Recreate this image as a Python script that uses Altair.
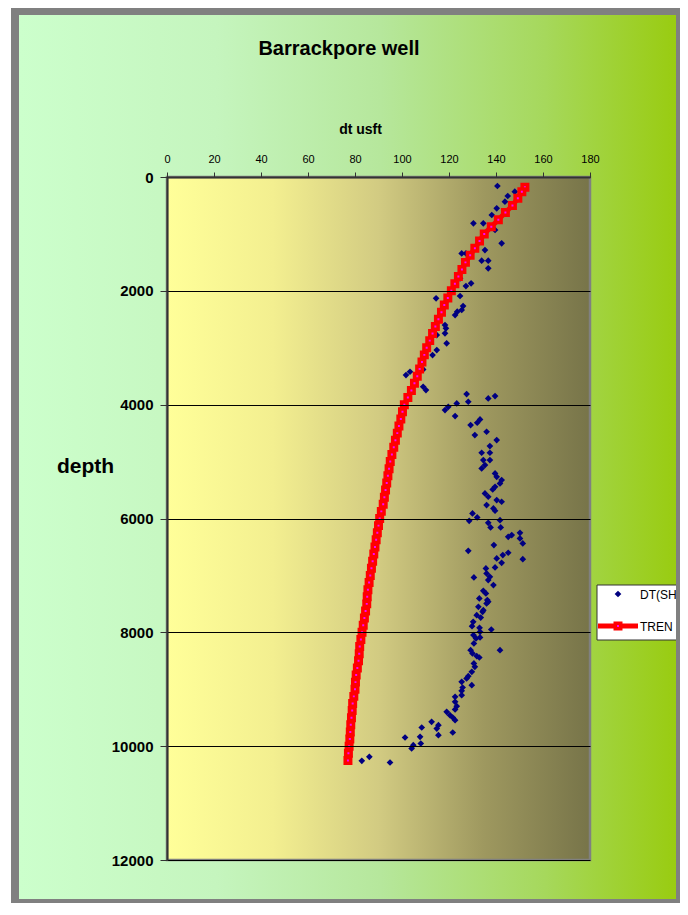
import altair as alt
import pandas as pd

# ---- data ----
shale_depth = [158, 258, 334, 434, 551, 668, 814, 814, 931, 1166, 1283, 1342, 1342, 1471, 1471, 1605,
               1781, 1868, 1916, 2091, 2132, 2267, 2337, 2367, 2425, 2601, 2659, 2747, 2777, 2923,
               3040, 3128, 3380, 3422, 3480, 3685, 3743, 3814, 3849, 3890, 3949, 3978, 4037, 4095,
               4200, 4260, 4318, 4358, 4476, 4534, 4622, 4727, 4845, 4845, 4974, 4974, 5062, 5120,
               5208, 5267, 5325, 5384, 5443, 5489, 5559, 5618, 5677, 5706, 5765, 5823, 5864, 5911,
               5982, 6029, 6041, 6076, 6157, 6157, 6251, 6292, 6322, 6350, 6438, 6467, 6567, 6602,
               6643, 6701, 6714, 6778, 6860, 6877, 6965, 7024, 7035, 7082, 7170, 7270, 7316, 7405,
               7434, 7463, 7493, 7552, 7610, 7640, 7698, 7740, 7815, 7891, 7920, 7950, 7991, 8049,
               8090, 8107, 8195, 8313, 8313, 8371, 8418, 8442, 8547, 8606, 8694, 8770, 8810, 8869,
               8928, 8969, 9028, 9104, 9133, 9221, 9297, 9355, 9397, 9455, 9496, 9543, 9573, 9631,
               9672, 9690, 9760, 9807, 9836, 9848, 9953, 9982, 10041, 10188, 10258, 10287]
shale_dt = [140.6, 148.0, 145.0, 143.8, 140.3, 138.2, 130.4, 134.6, 139.6, 142.4, 135.3, 125.4, 127.2,
            133.9, 136.7, 136.7, 124.7, 129.4, 127.2, 124.7, 114.5, 126.0, 125.4, 123.5, 122.6, 118.3,
            118.7, 118.3, 114.8, 119.0, 114.8, 113.0, 109.0, 103.4, 101.7, 109.0, 110.2, 127.5, 139.6,
            136.7, 128.2, 123.3, 119.7, 118.3, 122.6, 133.2, 132.0, 129.2, 136.0, 131.0, 140.3, 137.4,
            133.9, 137.4, 134.6, 137.4, 135.3, 133.9, 139.6, 140.3, 142.4, 141.7, 139.6, 138.6, 135.3,
            136.7, 140.3, 142.4, 136.0, 138.9, 139.6, 130.0, 132.0, 141.7, 128.6, 136.7, 137.7, 142.0,
            150.2, 146.7, 145.2, 150.2, 151.4, 139.1, 128.2, 145.2, 142.9, 140.3, 151.4, 142.4, 139.6,
            135.7, 136.0, 137.4, 130.6, 136.7, 138.9, 134.6, 135.7, 132.9, 136.3, 136.7, 136.0, 132.5,
            134.6, 134.3, 131.8, 133.5, 130.3, 129.8, 133.0, 138.0, 133.2, 130.4, 133.2, 131.5, 130.6,
            141.7, 129.2, 130.0, 131.8, 132.9, 130.6, 131.0, 129.7, 128.2, 127.5, 125.4, 129.7, 125.8,
            125.4, 125.4, 122.6, 122.6, 123.3, 122.6, 119.0, 120.4, 121.6, 122.6, 112.6, 115.5, 108.4,
            114.8, 121.6, 115.5, 107.7, 101.3, 108.0, 104.8, 104.1, 86.1, 82.9, 94.9]

trend_depth = [180, 260, 375, 500, 625, 750, 875, 1000, 1125, 1250, 1375, 1500, 1625, 1750, 1875,
               2000, 2125, 2250, 2375, 2500, 2625, 2750, 2875, 3000, 3125, 3250, 3375, 3500, 3625,
               3750, 3875, 4000, 4125, 4250, 4375, 4500, 4625, 4750, 4875, 5000, 5125, 5250, 5375,
               5500, 5625, 5750, 5875, 6000, 6125, 6250, 6375, 6500, 6625, 6750, 6875, 7000, 7125,
               7250, 7375, 7500, 7625, 7750, 7875, 8000, 8125, 8250, 8375, 8500, 8625, 8750, 8875,
               9000, 9125, 9250, 9375, 9500, 9625, 9750, 9875, 10000, 10125, 10250]
trend_dt = [152.3, 151, 149.3, 147, 144, 141, 138, 135, 133, 131, 129, 127, 125.5, 124, 122.5,
            121, 119.5, 118, 116.8, 115.5, 114.2, 113, 111.8, 110.5, 109.5, 108.5, 107.5, 106.5, 105.3,
            104, 102.5, 101, 100.2, 99.5, 98.7, 98, 97.2, 96.5, 95.7, 95, 94.5, 94, 93.5,
            93, 92.5, 92, 91.2, 90.5, 90, 89.5, 89, 88.5, 88, 87.5, 87, 86.5, 86,
            85.5, 85.2, 85, 84.5, 84, 83.5, 83, 82.5, 82, 81.8, 81.5, 81, 80.5, 80.2,
            80, 79.5, 79, 78.8, 78.5, 78.2, 78, 77.8, 77.5, 77.2, 77]

x_ticks = [0, 20, 40, 60, 80, 100, 120, 140, 160, 180]
y_ticks = [0, 2000, 4000, 6000, 8000, 10000, 12000]

chart_title = "Barrackpore well"
x_title = "dt usft"
y_title = "depth"
legend_labels = ["DT(SH)", "TREN"]

FONT = "Liberation Sans"
W, H = 423, 683

shale = pd.DataFrame({"depth": shale_depth, "dt": shale_dt})
trend = pd.DataFrame({"depth": trend_depth, "dt": trend_dt})
one = pd.DataFrame({"k": [0]})

xs = alt.Scale(domain=[0, 180], nice=False, zero=True)
ys = alt.Scale(domain=[0, 12000], reverse=True, nice=False)

xaxis = alt.Axis(orient="top", values=x_ticks, grid=False, tickSize=5, tickColor="#333333",
                 domainColor="#333333", domainWidth=2, labelFont=FONT, labelFontSize=11,
                 labelColor="black", labelPadding=8, labelFlush=False, title=x_title,
                 titleFont=FONT, titleFontSize=14, titleFontWeight="bold", titleColor="black",
                 titleX=193, titleY=-44, titleAlign="center", titleBaseline="alphabetic",
                 zindex=1)
yaxis = alt.Axis(orient="left", values=y_ticks, format="d", grid=True, gridColor="black",
                 gridWidth=1, tickSize=7, tickColor="#333333", domainColor="#333333",
                 domainWidth=2, labelFont=FONT, labelFontSize=15, labelFontWeight="bold",
                 labelColor="black", labelPadding=7, labelFlush=False, title=y_title,
                 titleFont=FONT, titleFontSize=21, titleFontWeight="bold", titleColor="black",
                 titleAngle=0, titleX=-82, titleY=295, titleAlign="center",
                 titleBaseline="alphabetic", zindex=1)

outer_grad = {"gradient": "linear", "x1": 0, "x2": 1, "y1": 0, "y2": 0,
              "stops": [{"offset": 0, "color": "#CCFFCC"}, {"offset": 0.3, "color": "#C5F5BE"},
                        {"offset": 0.55, "color": "#B6E79C"}, {"offset": 0.8, "color": "#A6D85C"},
                        {"offset": 1, "color": "#99CC11"}]}
plot_grad = {"gradient": "linear", "x1": 0, "x2": 1, "y1": 0, "y2": 0,
             "stops": [{"offset": 0, "color": "#FFFF99"}, {"offset": 0.25, "color": "#F3EF90"},
                       {"offset": 0.5, "color": "#D2CB82"}, {"offset": 0.75, "color": "#9E985F"},
                       {"offset": 1, "color": "#777449"}]}

base = alt.Chart(one)

frame = base.mark_rect(fill="#808080").encode(
    x=alt.value(-156), x2=alt.value(513), y=alt.value(-169), y2=alt.value(726))
green = base.mark_rect(fill=outer_grad).encode(
    x=alt.value(-148), x2=alt.value(509), y=alt.value(-162), y2=alt.value(722))
plotbg = base.mark_rect(fill=plot_grad, stroke="#808080", strokeWidth=2.5).encode(
    x=alt.value(0), x2=alt.value(W), y=alt.value(0), y2=alt.value(H))

pts = alt.Chart(shale).mark_point(shape="diamond", filled=True, color="#000080", size=45,
                                  opacity=1).encode(
    x=alt.X("dt:Q", scale=xs, axis=xaxis),
    y=alt.Y("depth:Q", scale=ys, axis=yaxis))

line = alt.Chart(trend).mark_line(
    color="red", strokeWidth=5,
    point=alt.OverlayMarkDef(shape="square", filled=True, fill="#FF00FF", stroke="red",
                             strokeWidth=3.5, size=30, opacity=1)).encode(
    x=alt.X("dt:Q", scale=xs, axis=xaxis),
    y=alt.Y("depth:Q", scale=ys, axis=yaxis),
    order=alt.Order("depth:Q"))

title = base.mark_text(text=chart_title, font=FONT, fontSize=20, fontWeight="bold",
                       color="black", align="center", baseline="alphabetic").encode(
    x=alt.value(172), y=alt.value(-122))

leg_box = base.mark_rect(fill="white", stroke="#333333", strokeWidth=1).encode(
    x=alt.value(430), x2=alt.value(512), y=alt.value(408), y2=alt.value(463))
leg_diamond = base.mark_point(shape="diamond", filled=True, color="#000080", size=45,
                              opacity=1).encode(x=alt.value(451), y=alt.value(417))
leg_line = base.mark_rule(color="red", strokeWidth=5).encode(
    x=alt.value(431), x2=alt.value(471), y=alt.value(449))
leg_square = base.mark_point(shape="square", filled=True, fill="#FF00FF", stroke="red",
                             strokeWidth=3.5, size=30, opacity=1).encode(
    x=alt.value(451), y=alt.value(449))
leg_t1 = base.mark_text(text=legend_labels[0], font=FONT, fontSize=12, color="black",
                        align="left", baseline="alphabetic").encode(x=alt.value(473), y=alt.value(422))
leg_t2 = base.mark_text(text=legend_labels[1], font=FONT, fontSize=12, color="black",
                        align="left", baseline="alphabetic").encode(x=alt.value(473), y=alt.value(454))
right_strip = base.mark_rect(fill="#808080").encode(
    x=alt.value(509), x2=alt.value(513), y=alt.value(-169), y2=alt.value(726))

chart = alt.layer(frame, green, plotbg, pts, line, title, leg_box, leg_diamond, leg_line,
                  leg_square, leg_t1, leg_t2, right_strip).properties(
    width=W, height=H,
    autosize=alt.AutoSizeParams(type="none"),
    padding={"left": 159, "top": 169, "right": 90, "bottom": 43},
    background="white",
).configure_view(stroke=None).configure(font=FONT)

chart.save("out.html", embed_options={"renderer": "svg", "actions": False})
